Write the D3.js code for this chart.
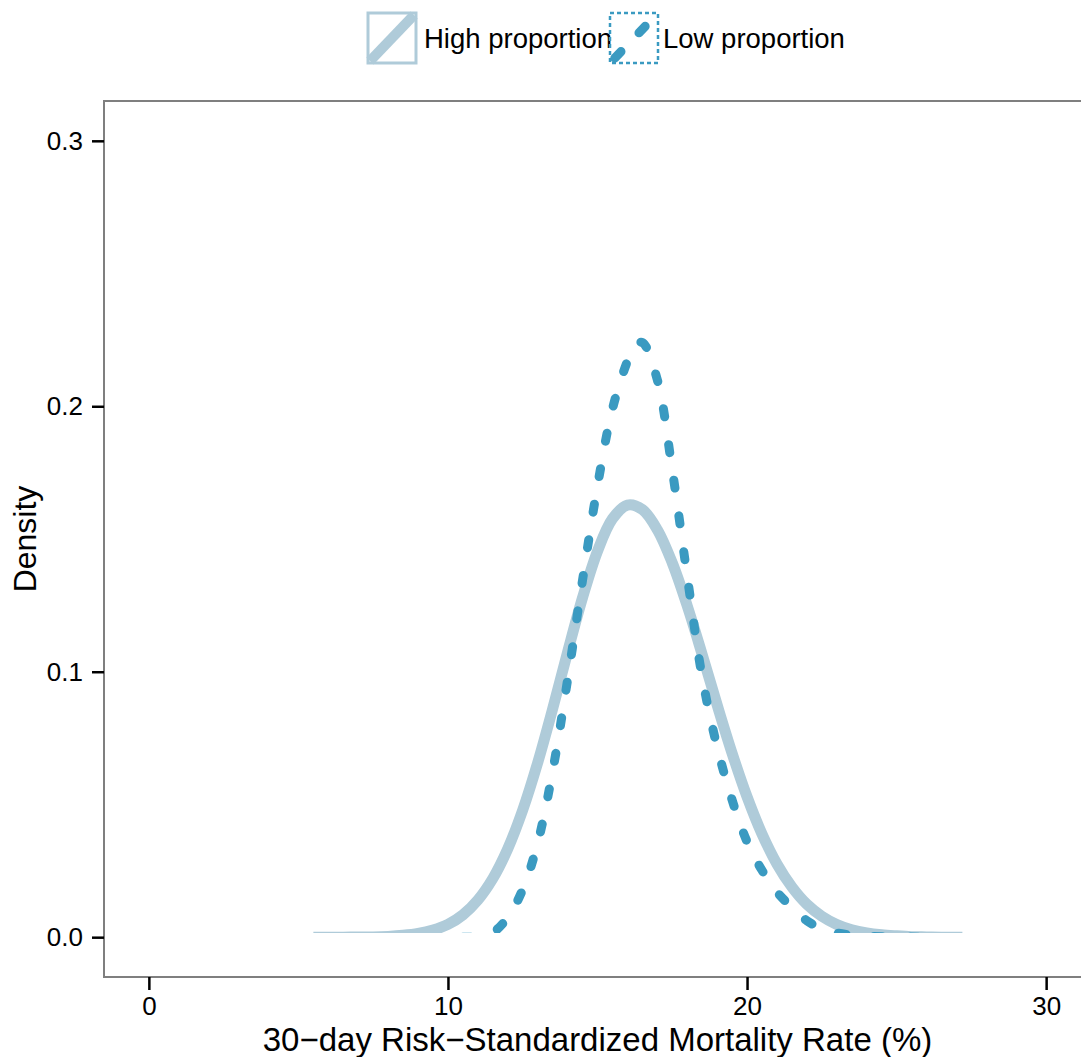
<!DOCTYPE html>
<html><head><meta charset="utf-8">
<script src="https://cdn.jsdelivr.net/npm/d3@7"></script>
<style>body{margin:0;background:#fff} svg{display:block}</style>
</head><body>
<svg id="chart" width="1081" height="1057"></svg>
<script>
// ---- data ----
const seriesNames = ["High proportion", "Low proportion"];
const highX = [5.5,6,6.5,7,7.5,8,8.5,9,9.5,10,10.5,11,11.5,12,12.5,13,13.5,14,14.5,15,15.5,16,16.5,17,17.5,18,18.5,19,19.5,20,20.5,21,21.5,22,22.5,23,23.5,24,24.5,25,25.5,26,26.5,27.2];
const highY = [0,0,0,0.0001,0.0001,0.0003,0.0007,0.0014,0.0027,0.0048,0.0084,0.014,0.0221,0.0333,0.0479,0.0657,0.086,0.1074,0.1279,0.1454,0.1576,0.1628,0.1611,0.1535,0.141,0.1248,0.1065,0.0875,0.0693,0.0529,0.0389,0.0276,0.0189,0.0124,0.0079,0.0048,0.0028,0.0016,0.0009,0.0005,0.0002,0.0001,0,0];
const lowX = [10.5,11,11.5,12,12.5,13,13.5,14,14.5,15,15.5,16,16.25,16.5,17,17.5,18,18.5,19,19.5,20,20.5,21,21.5,22,22.5,23,23.5,24,25,25.8];
const lowY = [0,0.0002,0.0018,0.0075,0.018,0.0355,0.0625,0.097,0.1345,0.17,0.199,0.217,0.2232,0.224,0.21,0.176,0.136,0.098,0.0717,0.0517,0.036,0.0252,0.017,0.0112,0.0062,0.0032,0.0016,0.0008,0.0004,0.0001,0];
const xTicks = [0, 10, 20, 30];
const yTicks = [0, 0.1, 0.2, 0.3];
const xTitle = "30\u2212day Risk\u2212Standardized Mortality Rate (%)";
const yTitle = "Density";

const colors = ["#afcbd9", "#3a9ac1"];
const FONT = "'Liberation Sans', Arial, Helvetica, sans-serif";

const svg = d3.select("#chart");
const P = {l: 104, r: 1091, t: 101, b: 977};
const x = d3.scaleLinear().domain([-1.5, 31.5]).range([P.l, P.r]);
const y = d3.scaleLinear().domain([-0.015, 0.315]).range([P.b, P.t]);

// clip: lines cut just above the zero level like in the reference
const defs = svg.append("defs");
defs.append("clipPath").attr("id", "lineclip")
  .append("rect").attr("x", P.l).attr("y", P.t)
  .attr("width", P.r - P.l).attr("height", y(0.0016) - P.t);

const line = d3.line().x(d => x(d[0])).y(d => y(d[1])).curve(d3.curveCatmullRom.alpha(0.5));
const g = svg.append("g").attr("clip-path", "url(#lineclip)");
g.append("path").datum(d3.zip(highX, highY))
  .attr("d", line).attr("fill", "none")
  .attr("stroke", colors[0]).attr("stroke-width", 11).attr("stroke-linejoin", "round");
g.append("path").datum(d3.zip(lowX, lowY))
  .attr("d", line).attr("fill", "none")
  .attr("stroke", colors[1]).attr("stroke-width", 9)
  .attr("stroke-linecap", "round").attr("stroke-dasharray", "8,28");

// panel border
svg.append("rect").attr("x", P.l).attr("y", P.t)
  .attr("width", P.r - P.l).attr("height", P.b - P.t)
  .attr("fill", "none").attr("stroke", "#7f7f7f").attr("stroke-width", 2);

// axes
const ya = svg.append("g").attr("transform", `translate(${P.l},0)`)
  .call(d3.axisLeft(y).tickValues(yTicks).tickFormat(d3.format(".1f")).tickSize(12).tickPadding(9));
const xa = svg.append("g").attr("transform", `translate(0,${P.b})`)
  .call(d3.axisBottom(x).tickValues(xTicks).tickFormat(d3.format("d")).tickSize(13).tickPadding(7));
[ya, xa].forEach(a => {
  a.select(".domain").remove();
  a.selectAll(".tick line").attr("stroke", "#000").attr("stroke-width", 2.5);
  a.selectAll(".tick text").attr("fill", "#000").style("font-family", FONT).style("font-size", "26px");
});

// titles
svg.append("text").attr("x", (P.l + P.r) / 2).attr("y", 1051)
  .attr("text-anchor", "middle").style("font-family", FONT).style("font-size", "33px")
  .text(xTitle);
svg.append("text").attr("transform", `translate(36,${(P.t + P.b) / 2}) rotate(-90)`)
  .attr("text-anchor", "middle").style("font-family", FONT).style("font-size", "32px")
  .text(yTitle);

// legend
const legend = [
  {name: seriesNames[0], kx: 368, tx: 424, color: colors[0], dashed: false},
  {name: seriesNames[1], kx: 610, tx: 663, color: colors[1], dashed: true}
];
legend.forEach(L => {
  const k = svg.append("g");
  k.append("rect").attr("x", L.kx).attr("y", 13).attr("width", 48).attr("height", 50)
    .attr("fill", "none").attr("stroke", L.color).attr("stroke-width", L.dashed ? 2.5 : 3)
    .attr("stroke-dasharray", L.dashed ? "4,3" : null);
  k.append("line").attr("x1", L.kx + 2).attr("y1", 61).attr("x2", L.kx + 46).attr("y2", 15)
    .attr("stroke", L.color).attr("stroke-width", L.dashed ? 9 : 10)
    .attr("stroke-linecap", L.dashed ? "round" : "butt")
    .attr("stroke-dasharray", L.dashed ? "9,26" : null)
    .attr("stroke-dashoffset", L.dashed ? -4 : null);
  svg.append("text").attr("x", L.tx).attr("y", 48)
    .style("font-family", FONT).style("font-size", "27.5px").text(L.name);
});
</script>
</body></html>
